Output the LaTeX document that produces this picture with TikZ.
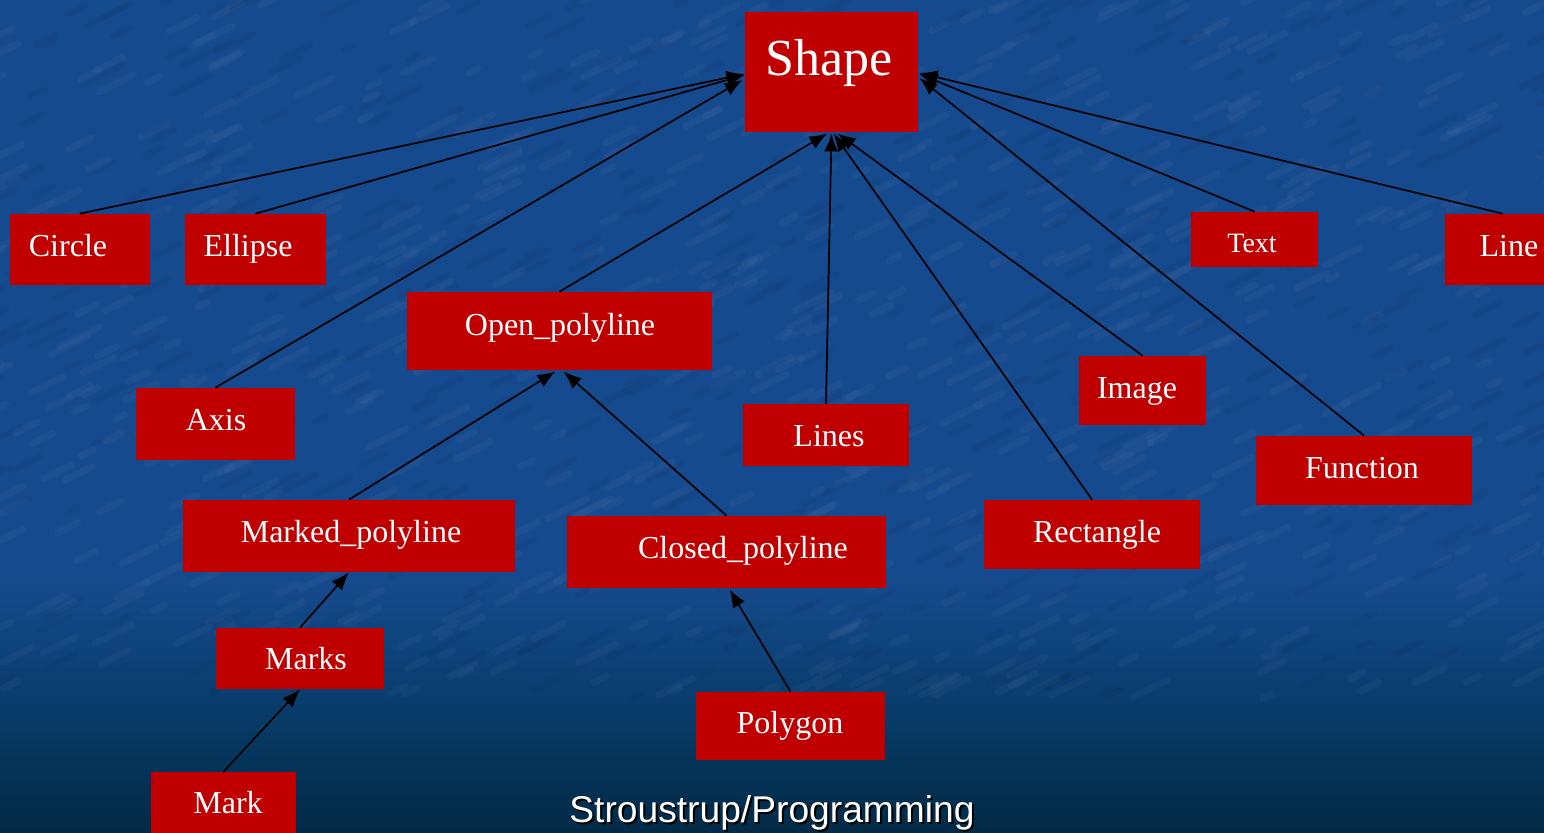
\documentclass[tikz,border=0pt]{standalone}
\usepackage{fontspec}
\setmainfont{Liberation Serif}
\newfontfamily\footfont{Liberation Sans}
\usetikzlibrary{arrows.meta,calc}
\definecolor{boxred}{RGB}{192,0,0}
\definecolor{bgblue}{RGB}{22,74,142}
\definecolor{bgmid}{RGB}{8,60,106}
\definecolor{bgdark}{RGB}{2,42,70}

\begin{document}
\begin{tikzpicture}[x=0.5pt,y=-0.5pt,
  cls/.style={fill=boxred, draw=none, inner sep=0pt},
  lbl/.style={text=white, anchor=base, inner sep=0pt, font=\fontsize{16}{18}\selectfont},
  arr/.style={-{Latex[length=9pt,width=7pt]}, line width=0.85pt, draw=black},
]
\useasboundingbox (0,0) rectangle (1544,832);

% background: blue slide fading to dark teal at the bottom
\fill[bgblue] (0,0) rectangle (1544,600);
\shade[top color=bgblue, bottom color=bgmid] (0,580) rectangle (1544,710);
\shade[top color=bgmid, bottom color=bgdark] (0,709) rectangle (1544,832);

% faint mottled texture
\begin{scope}
  \clip (0,0) rectangle (1544,832);
  \pgfmathsetseed{7}
  \foreach \i in {1,...,700}{
    \pgfmathsetmacro\xx{rnd*1600-30}
    \pgfmathsetmacro\yy{rnd*700}
    \pgfmathsetmacro\ll{8+rnd*30}
    \draw[white, opacity=0.03, line width=3.5pt, line cap=round] (\xx,\yy) -- ++(\ll,-0.5*\ll);
  }
  \foreach \i in {1,...,500}{
    \pgfmathsetmacro\xx{rnd*1600-30}
    \pgfmathsetmacro\yy{rnd*700}
    \pgfmathsetmacro\ll{8+rnd*30}
    \draw[black, opacity=0.04, line width=3pt, line cap=round] (\xx,\yy) -- ++(\ll,-0.5*\ll);
  }
\end{scope}

% class boxes
\node[cls, minimum width=86.5pt, minimum height=60pt]   (shape)   at (831.5,72)   {};
\node[cls, minimum width=70pt,   minimum height=35.5pt] (circle)  at (80,249.5)   {};
\node[cls, minimum width=70.5pt, minimum height=35.5pt] (ellipse) at (255.5,249.5) {};
\node[cls, minimum width=57.5pt, minimum height=35.5pt] (line)    at (1502.5,249.5) {};
\node[cls, minimum width=63.5pt, minimum height=27.5pt] (text)    at (1254.5,239.5) {};
\node[cls, minimum width=152.5pt,minimum height=39pt]   (open)    at (559.5,331)  {};
\node[cls, minimum width=79.5pt, minimum height=36pt]   (axis)    at (215.5,424)  {};
\node[cls, minimum width=83pt,   minimum height=31pt]   (lines)   at (826,435)    {};
\node[cls, minimum width=63.5pt, minimum height=34.5pt] (image)   at (1142.5,390.5) {};
\node[cls, minimum width=108pt,  minimum height=34.5pt] (function) at (1364,470.5) {};
\node[cls, minimum width=166pt,  minimum height=36pt]   (marked)  at (349,536)    {};
\node[cls, minimum width=159.5pt,minimum height=36pt]   (closed)  at (726.5,552)  {};
\node[cls, minimum width=108pt,  minimum height=34.5pt] (rect)    at (1092,534.5) {};
\node[cls, minimum width=84pt,   minimum height=30.5pt] (marks)   at (300,658.5)  {};
\node[cls, minimum width=94.5pt, minimum height=34pt]   (polygon) at (790.5,726)  {};
\node[cls, minimum width=72.5pt, minimum height=36.5pt] (mark)    at (223.5,808.5) {};

% class names
\node[lbl, font=\fontsize{26}{30}\selectfont] (shape-t) at (829,75) {Shape};
\node[lbl] (circle-t)  at (68,256)   {Circle};
\node[lbl] (ellipse-t) at (248,256)  {Ellipse};
\node[lbl] (line-t)    at (1509,256) {Line};
\node[lbl, font=\fontsize{14}{16}\selectfont] (text-t) at (1252,252) {Text};
\node[lbl] (open-t)    at (560,335)  {Open\_polyline};
\node[lbl] (axis-t)    at (216,430)  {Axis};
\node[lbl] (lines-t)   at (829,446)  {Lines};
\node[lbl] (image-t)   at (1137,398) {Image};
\node[lbl] (function-t) at (1362,478) {Function};
\node[lbl] (marked-t)  at (351,542)  {Marked\_polyline};
\node[lbl] (closed-t)  at (743,558)  {Closed\_polyline};
\node[lbl] (rect-t)    at (1097,542) {Rectangle};
\node[lbl] (marks-t)   at (306,669)  {Marks};
\node[lbl] (polygon-t) at (790,733)  {Polygon};
\node[lbl] (mark-t)    at (228,813)  {Mark};

% inheritance arrows (child -> base)
\draw[arr] (circle.north)  -- ($(shape.west)+(0,2)$);
\draw[arr] (ellipse.north) -- ($(shape.west)+(0,3)$);
\draw[arr] (axis.north)    -- ($(shape.west)+(-2,8)$);
\draw[arr] (open.north)    -- ($(shape.south)+(-4,1)$);
\draw[arr] (lines.north)   -- ($(shape.south)+(0,1)$);
\draw[arr] (rect.north)    -- ($(shape.south)+(2,1)$);
\draw[arr] (image.north)   -- ($(shape.south)+(6,1)$);
\draw[arr] (text.north)    -- ($(shape.east)+(1,2)$);
\draw[arr] (line.north)    -- ($(shape.east)+(1,1)$);
\draw[arr] (function.north) -- ($(shape.east)+(1,6)$);
\draw[arr] (marked.north)  -- ($(open.south)+(-4,1)$);
\draw[arr] (closed.north)  -- ($(open.south)+(4,1)$);
\draw[arr] (marks.north)   -- (marked.south);
\draw[arr] (mark.north)    -- (marks.south);
\draw[arr] (polygon.north) -- ($(closed.south)+(3,1)$);

% footer
\node[anchor=base, inner sep=0pt, text=black, font=\footfont\fontsize{18.6}{20}\selectfont] (foot-s) at (774,824) {Stroustrup/Programming};
\node[anchor=base, inner sep=0pt, text=white, font=\footfont\fontsize{18.6}{20}\selectfont] (foot) at (772,822) {Stroustrup/Programming};
\end{tikzpicture}
\end{document}
